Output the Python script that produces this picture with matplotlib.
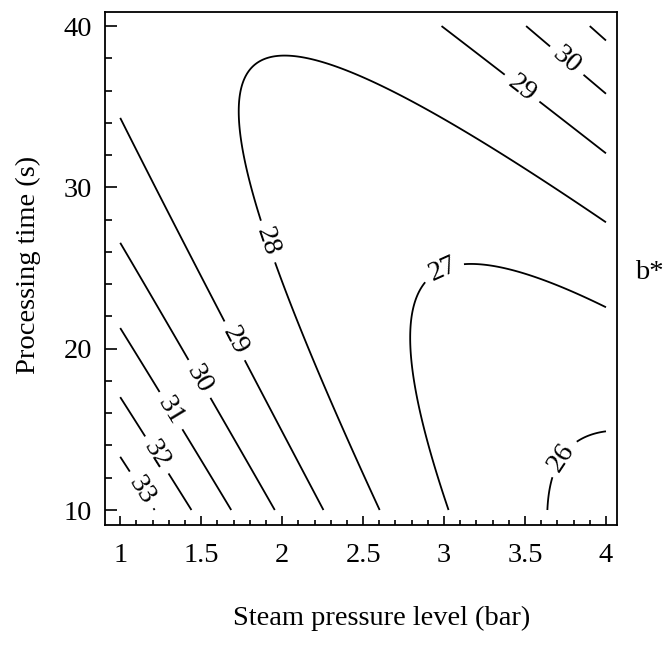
import numpy as np
import matplotlib.pyplot as plt
from matplotlib.ticker import MultipleLocator

plt.rcParams['font.family'] = ['Liberation Serif', 'DejaVu Serif']
plt.rcParams['font.size'] = 20.5

# points: (steam pressure, processing time)
b26 = [(3.64, 10.0), (3.66, 11.7), (3.84, 14.2), (4.00, 14.9)]
b27 = [(3.03, 10.0), (2.87, 15.1), (2.81, 18.9), (2.78, 20.6), (2.81, 22.1),
       (2.89, 24.1), (3.18, 25.2), (3.39, 25.0), (3.77, 23.7), (4.00, 22.5)]
b28 = [(2.60, 10.0), (2.38, 15.1), (2.19, 19.1), (1.97, 25.1), (1.87, 28.2),
       (1.79, 30.5), (1.73, 34.1), (1.74, 35.7), (1.79, 37.2), (1.91, 38.0),
       (2.05, 38.1), (2.35, 37.5), (2.67, 36.1), (2.96, 34.6), (3.27, 32.6),
       (3.80, 29.3), (4.00, 28.0)]
b29 = [(1.00, 34.4), (1.19, 30.5), (1.31, 28.2), (1.48, 24.9), (1.61, 22.4),
       (1.79, 18.9), (1.99, 15.1), (2.25, 10.0),
       (2.97, 40.0), (3.10, 39.2), (3.38, 37.1), (3.62, 35.1), (3.92, 32.7), (4.00, 32.1)]
b30 = [(1.00, 26.6), (1.14, 23.9), (1.31, 21.2), (1.41, 19.5), (1.57, 16.8),
       (1.67, 15.1), (1.96, 10.0),
       (3.50, 40.0), (3.64, 38.9), (3.88, 36.8), (4.00, 35.7)]
b31 = [(1.00, 21.3), (1.14, 19.0), (1.24, 17.5), (1.40, 14.8), (1.48, 13.7),
       (1.68, 10.0), (3.89, 40.0), (4.00, 39.1)]
b32 = [(1.00, 17.0), (1.12, 15.1), (1.15, 14.5), (1.33, 11.9), (1.43, 10.0)]
b33 = [(1.00, 13.2), (1.06, 12.5), (1.20, 10.0)]

levels = [26, 27, 28, 29, 30, 31, 32, 33]
traces = [b26, b27, b28, b29, b30, b31, b32, b33]

label_pos = [(3.72, 13.3), (3.01, 24.5), (1.90, 26.6), (1.69, 20.4), (3.47, 36.0),
             (1.45, 17.9), (3.77, 38.0), (1.32, 16.2), (1.24, 13.5), (1.11, 11.1)]

x_ticks = [1, 1.5, 2, 2.5, 3, 3.5, 4]
x_ticklabels = ['1', '1.5', '2', '2.5', '3', '3.5', '4']
y_ticks = [10, 20, 30, 40]

# quadratic response surface through the traced points
px, py, pz = [], [], []
for lv, pts in zip(levels, traces):
    for a, b in pts:
        px.append(a)
        py.append(b)
        pz.append(lv)
px, py, pz = np.array(px), np.array(py), np.array(pz, dtype=float)
A = np.column_stack([np.ones_like(px), px, py, px**2, py**2, px * py])
coef, *_ = np.linalg.lstsq(A, pz, rcond=None)

gx, gy = np.meshgrid(np.linspace(1, 4, 300), np.linspace(10, 40, 300))
gz = (coef[0] + coef[1] * gx + coef[2] * gy + coef[3] * gx**2
      + coef[4] * gy**2 + coef[5] * gx * gy)

fig = plt.figure(figsize=(6.71, 6.5), dpi=100)
ax = fig.add_axes([0.156, 0.1923, 0.7635, 0.7892])

cs = ax.contour(gx, gy, gz, levels=levels, colors='black', linewidths=1.3)
ax.clabel(cs, fmt='%d', fontsize=20.5, inline=True, inline_spacing=9, manual=label_pos)

ax.set_xlim(0.904, 4.068)
ax.set_ylim(9.07, 40.87)
ax.set_xticks(x_ticks)
ax.set_xticklabels(x_ticklabels)
ax.set_yticks(y_ticks)
ax.xaxis.set_minor_locator(MultipleLocator(0.1))
ax.yaxis.set_minor_locator(MultipleLocator(2))
ax.tick_params(axis='x', which='major', direction='in', length=6.5, width=1.2, pad=13)
ax.tick_params(axis='x', which='minor', direction='in', length=3.4, width=1.2)
ax.tick_params(axis='y', which='major', direction='in', length=8.6, width=1.2, pad=9)
ax.tick_params(axis='y', which='minor', direction='in', length=5, width=1.2)
for s in ax.spines.values():
    s.set_linewidth(1.3)

ax.text(1.036, 0.493, 'b*', transform=ax.transAxes, ha='left', va='center')
fig.text(0.568, 0.049, 'Steam pressure level (bar)', ha='center', va='center')
fig.text(0.042, 0.592, 'Processing time (s)', ha='center', va='center', rotation=90)

fig.savefig('out.png', dpi=100)
